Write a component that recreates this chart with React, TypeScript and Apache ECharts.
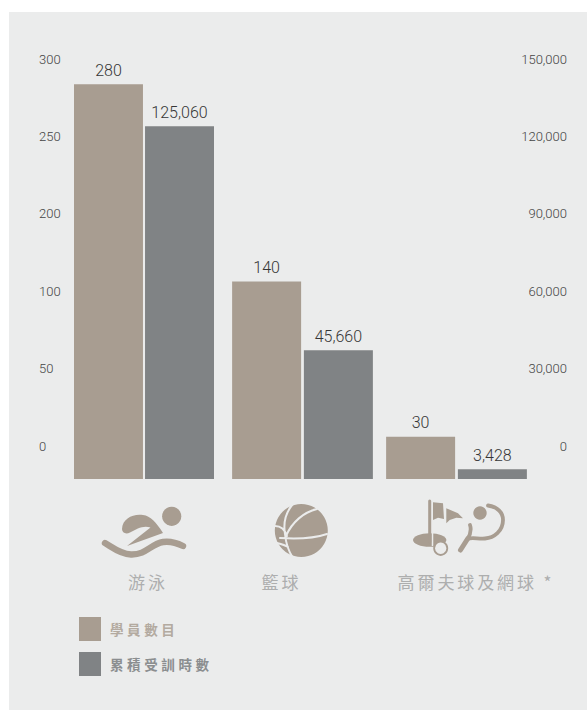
import React, { useEffect, useRef } from "react";
import * as echarts from "echarts";

// Programme figures
const categories = ["游泳", "籃球", "高爾夫球及網球 *"];
const seriesNames = ["學員數目", "累積受訓時數"];
const students = [280, 140, 30];
const trainingHours = [125060, 45660, 3428];

// Tick captions printed beside the plot
const leftTicks = ["0", "50", "100", "200", "250", "300"];
const rightTicks = ["0", "30,000", "60,000", "90,000", "120,000", "150,000"];

const PANEL = "#ebecec";
const TAN = "#a89d91";
const SLATE = "#808385";
const LABEL = "#adaeae";
const NUM_FONT = "Roboto";
const CJK_FONT = "'Noto Sans CJK TC'";

const PLOT_TOP = 56;
const PLOT_HEIGHT = 423;
const groupFrames = [
  { left: 74, width: 140, gap: "3%" },
  { left: 232, width: 141, gap: "4%" },
  { left: 386, width: 141, gap: "4%" },
];
const labelCentres = [148, 281.5, 476];

const swimBody =
  "M122 529C122.5 518.5 133 513.5 143 515C150.5 516 156 522 163 533L127 546L150.5 527.5C143 525 137 529 130 532.5C126 534.5 122 533 122 529Z";
const swimWave =
  "M105 543C112 547 120 554 131 554.5C146 555 151 544 163 542C170 541 177 543 183 546";
const seamsBall =
  "M293 504C286 512 283 522 285 534C286 544 289 552 293 558M275 526C281 526 285 530 287 536M280 538C295 539 315 538 327 534M317 509C304 512 292 522 286 536M277 543C281 544 285 545 288 547";
const flagShape =
  "M433 502.3L443 503.3L444 519L438 517.7L433 520ZM446.3 508.3L458 513.3L463 518.3L456.3 517.7L449.7 520L446.3 523.3Z";
const racketShape =
  "M488 505.5C498 507 503 513 503 520C503 531 494 538 485 538.5C478 539 471 537 467.5 539M470 525C472 531 470 535 467.5 539";
const handleShape = "M467.5 539L460.5 550";

echarts.graphic.registerShape("swimBody", echarts.graphic.extendPath(swimBody, {}));
echarts.graphic.registerShape("swimWave", echarts.graphic.extendPath(swimWave, {}));
echarts.graphic.registerShape("ballSeams", echarts.graphic.extendPath(seamsBall, {}));
echarts.graphic.registerShape("flags", echarts.graphic.extendPath(flagShape, {}));
echarts.graphic.registerShape("racket", echarts.graphic.extendPath(racketShape, {}));
echarts.graphic.registerShape("racketHandle", echarts.graphic.extendPath(handleShape, {}));

const strokeStyle = (stroke: string, lineWidth: number) => ({
  fill: "none",
  stroke,
  lineWidth,
  lineCap: "round",
});

function buildOption() {
  const grids: any[] = groupFrames.map((f) => ({
    left: f.left,
    width: f.width,
    top: PLOT_TOP,
    height: PLOT_HEIGHT,
  }));
  const xAxes: any[] = groupFrames.map((_, i) => ({
    type: "category",
    gridIndex: i,
    data: [categories[i]],
    show: false,
  }));
  const yAxes: any[] = [];
  const series: any[] = [];
  const barLabel = {
    show: true,
    position: "top",
    distance: 6,
    fontFamily: NUM_FONT,
    fontWeight: 300,
    fontSize: 16,
    color: "#363636",
    formatter: (p: any) => Number(p.value).toLocaleString("en-US"),
  };

  groupFrames.forEach((f, i) => {
    const leftIdx = yAxes.length;
    yAxes.push({ type: "value", gridIndex: i, min: 0, max: 300, show: false });
    yAxes.push({ type: "value", gridIndex: i, min: 0, max: 150000, show: false });
    series.push({
      name: seriesNames[0],
      type: "bar",
      xAxisIndex: i,
      yAxisIndex: leftIdx,
      barWidth: 69,
      barGap: f.gap,
      data: [students[i]],
      itemStyle: { color: TAN },
      label: barLabel,
    });
    series.push({
      name: seriesNames[1],
      type: "bar",
      xAxisIndex: i,
      yAxisIndex: leftIdx + 1,
      barWidth: 69,
      barGap: f.gap,
      data: [trainingHours[i]],
      itemStyle: { color: SLATE },
      label: barLabel,
    });
  });

  // The printed tick captions sit on their own evenly spaced scale
  const tickGrid = grids.length;
  grids.push({ left: 61, width: 449, top: 59, height: 387 });
  xAxes.push({ type: "category", gridIndex: tickGrid, data: [""], show: false });
  const tickAxis = (position: string, data: string[], align: string, margin: number) => ({
    type: "category",
    gridIndex: tickGrid,
    position,
    data,
    boundaryGap: false,
    axisLine: { show: false },
    axisTick: { show: false },
    splitLine: { show: false },
    axisLabel: {
      interval: 0,
      align,
      margin,
      fontFamily: NUM_FONT,
      fontWeight: 300,
      fontSize: 13,
      color: "#444",
    },
  });
  yAxes.push(tickAxis("left", leftTicks, "left", 22));
  yAxes.push(tickAxis("right", rightTicks, "right", 57));

  const icons: any[] = [
    { type: "swimBody", style: { fill: TAN } },
    { type: "circle", shape: { cx: 171.7, cy: 516.3, r: 9.6 }, style: { fill: TAN } },
    { type: "swimWave", style: strokeStyle(TAN, 6.4) },
    { type: "circle", shape: { cx: 301.3, cy: 530.5, r: 26.5 }, style: { fill: TAN } },
    { type: "ballSeams", style: strokeStyle(PANEL, 2) },
    { type: "ellipse", shape: { cx: 429.7, cy: 540, rx: 16.7, ry: 6.8 }, style: { fill: TAN } },
    { type: "line", shape: { x1: 432.5, y1: 532, x2: 432.5, y2: 546 }, style: { stroke: PANEL, lineWidth: 1.5 } },
    { type: "line", shape: { x1: 429.7, y1: 501, x2: 429.7, y2: 542 }, style: strokeStyle(TAN, 3) },
    { type: "flags", style: { fill: TAN } },
    { type: "circle", shape: { cx: 440.7, cy: 548.3, r: 6.6 }, style: { fill: PANEL, stroke: TAN, lineWidth: 1.8 } },
    { type: "circle", shape: { cx: 480, cy: 513, r: 6.7 }, style: { fill: TAN } },
    { type: "racket", style: strokeStyle(TAN, 3.8) },
    { type: "racketHandle", style: strokeStyle(TAN, 5) },
  ];

  const captions = categories.map((name, i) => ({
    type: "text",
    x: labelCentres[i],
    y: 581.5,
    style: {
      text: name,
      align: "center",
      verticalAlign: "middle",
      fontFamily: CJK_FONT,
      fontSize: 17,
      fill: LABEL,
    },
  }));

  return {
    animation: false,
    backgroundColor: "transparent",
    grid: grids,
    xAxis: xAxes,
    yAxis: yAxes,
    series,
    legend: {
      left: 79,
      top: 617,
      padding: 0,
      orient: "vertical",
      icon: "rect",
      itemWidth: 22,
      itemHeight: 24,
      itemGap: 11,
      selectedMode: false,
      textStyle: { fontFamily: CJK_FONT, fontSize: 13.5, fontWeight: "bold", padding: [0, 0, 0, 4] },
      data: [
        { name: seriesNames[0], textStyle: { color: "#b3aaa0" } },
        { name: seriesNames[1], textStyle: { color: "#8b8e90" } },
      ],
    },
    graphic: [
      { type: "rect", z: -10, shape: { x: 9, y: 12, width: 578, height: 698 }, style: { fill: PANEL } },
      ...icons,
      ...captions,
    ],
  };
}

export default function App() {
  const ref = useRef<HTMLDivElement>(null);
  useEffect(() => {
    const chart = echarts.init(ref.current!, undefined, { renderer: "svg" });
    chart.setOption(buildOption() as any);
    return () => chart.dispose();
  }, []);
  return (
    <>
      <style>{`.sports-chart text[style*="CJK"]{letter-spacing:2.9px}
.sports-chart text[style*="13.5px"]{letter-spacing:3.6px}`}</style>
      <div
        ref={ref}
        className="sports-chart"
        style={{ position: "absolute", left: 0, top: 0, width: 587, height: 710 }}
      />
    </>
  );
}
